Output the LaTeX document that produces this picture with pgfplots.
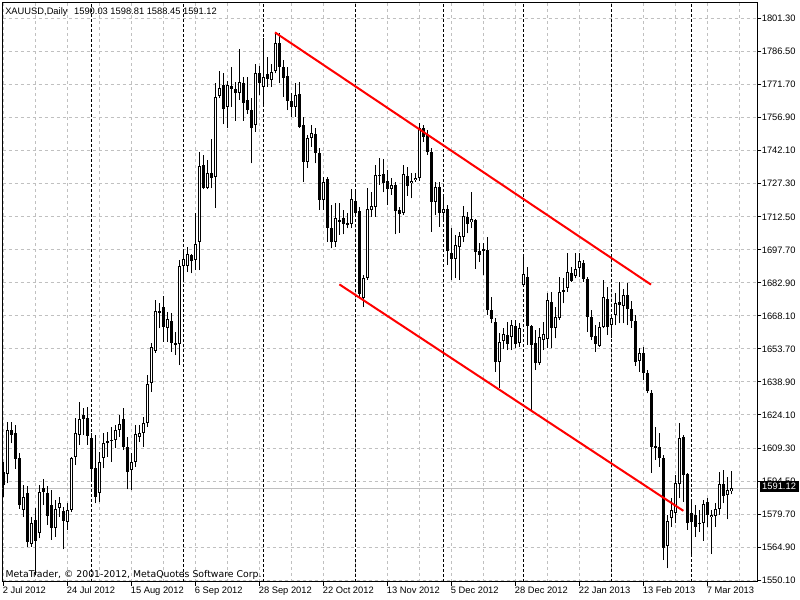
\documentclass[border=0pt]{standalone}
\usepackage{pgfplots}
\pgfplotsset{compat=1.18}
\usepackage{pgfplotstable}
\usepackage{fontspec}
\setmainfont{Liberation Sans}
\newfontfamily\dejavu{DejaVu Sans}
\definecolor{gridgray}{RGB}{192,192,192}
\pgfplotstableread{
i O H L C
0 1598.6 1603.1 1587.5 1592.7
1 1597.4 1621.0 1593.4 1617.3
2 1617.3 1620.7 1611.3 1615.0
3 1615.8 1619.5 1600.0 1604.3
4 1604.9 1607.0 1582.0 1583.5
5 1581.5 1592.7 1578.5 1587.5
6 1589.0 1592.0 1565.0 1567.0
7 1566.1 1578.5 1565.0 1575.8
8 1577.0 1582.2 1552.4 1567.6
9 1571.4 1592.7 1568.8 1589.4
10 1591.2 1595.2 1583.7 1589.4
11 1589.0 1592.2 1574.8 1579.0
12 1583.7 1590.4 1568.1 1573.3
13 1573.3 1586.0 1569.6 1581.9
14 1582.3 1587.5 1578.5 1584.5
15 1581.0 1583.0 1563.9 1576.7
16 1576.3 1584.5 1572.5 1581.5
17 1581.5 1605.3 1580.8 1604.6
18 1605.4 1622.5 1601.6 1615.8
19 1615.0 1630.0 1610.6 1622.0
20 1624.0 1627.0 1615.0 1622.0
21 1622.5 1627.7 1610.6 1614.6
22 1613.9 1615.8 1594.0 1599.7
23 1600.1 1615.0 1584.5 1587.5
24 1589.0 1607.6 1585.2 1603.0
25 1604.6 1615.8 1600.1 1611.3
26 1611.6 1616.5 1605.4 1612.4
27 1612.4 1618.8 1603.1 1612.8
28 1612.8 1619.5 1609.0 1617.3
29 1617.3 1624.0 1614.3 1619.8
30 1622.2 1627.0 1608.3 1609.8
31 1609.8 1614.0 1590.7 1598.6
32 1599.4 1606.9 1590.4 1602.8
33 1603.1 1619.5 1600.9 1615.3
34 1614.3 1619.5 1612.0 1615.8
35 1615.8 1623.2 1609.8 1620.3
36 1620.6 1641.9 1618.8 1637.7
37 1638.1 1656.0 1634.4 1654.2
38 1652.8 1675.4 1651.9 1670.6
39 1670.5 1673.9 1662.7 1669.8
40 1672.1 1677.2 1656.8 1663.5
41 1663.0 1670.2 1656.8 1666.8
42 1666.2 1669.8 1652.3 1656.3
43 1656.3 1661.2 1650.8 1655.6
44 1655.6 1693.3 1646.3 1690.8
45 1690.8 1697.0 1684.4 1693.6
46 1690.8 1699.3 1688.1 1695.9
47 1695.4 1696.0 1687.3 1692.9
48 1693.3 1714.2 1688.8 1700.3
49 1701.2 1741.7 1688.8 1735.3
50 1735.8 1740.3 1724.9 1725.7
51 1725.7 1738.0 1724.9 1732.1
52 1732.1 1747.3 1725.4 1730.1
53 1730.3 1772.6 1716.7 1766.3
54 1766.8 1777.8 1765.6 1770.1
55 1771.6 1776.8 1754.0 1760.7
56 1761.9 1773.4 1752.2 1771.6
57 1771.1 1779.8 1761.9 1769.6
58 1769.8 1773.0 1755.6 1768.1
59 1767.8 1787.5 1764.9 1772.8
60 1772.6 1775.3 1755.6 1763.7
61 1764.9 1775.3 1758.6 1760.4
62 1760.4 1765.6 1736.5 1752.2
63 1753.7 1780.8 1750.7 1777.1
64 1777.1 1780.0 1767.1 1772.3
65 1770.8 1792.4 1761.9 1775.3
66 1776.3 1784.2 1770.8 1774.1
67 1773.8 1781.2 1770.8 1777.5
68 1777.8 1795.1 1776.8 1790.2
69 1790.2 1795.0 1772.3 1779.8
70 1779.8 1782.7 1766.3 1774.5
71 1775.6 1779.8 1760.4 1764.4
72 1764.4 1767.8 1757.4 1761.9
73 1761.9 1772.3 1757.4 1767.1
74 1767.4 1773.1 1752.5 1752.9
75 1753.7 1757.4 1728.3 1737.3
76 1737.3 1749.2 1734.6 1747.7
77 1747.7 1753.7 1744.0 1749.9
78 1749.5 1752.2 1736.5 1741.3
79 1741.3 1743.5 1715.7 1720.1
80 1720.1 1730.6 1715.7 1728.3
81 1729.5 1730.6 1701.5 1707.5
82 1707.5 1717.9 1698.5 1701.5
83 1701.5 1718.6 1699.3 1711.9
84 1711.2 1718.6 1704.5 1710.4
85 1711.9 1715.7 1704.8 1709.2
86 1709.2 1714.2 1707.5 1709.7
87 1709.4 1725.0 1707.5 1720.6
88 1719.7 1723.9 1712.7 1714.2
89 1715.2 1717.2 1676.9 1677.9
90 1676.5 1686.6 1672.4 1685.1
91 1685.1 1725.3 1684.4 1716.1
92 1715.7 1723.9 1712.7 1717.4
93 1717.2 1735.8 1712.7 1731.3
94 1731.0 1738.8 1726.9 1731.3
95 1731.6 1738.3 1723.6 1727.9
96 1728.6 1733.6 1717.9 1725.0
97 1725.3 1729.8 1722.4 1726.8
98 1726.8 1728.3 1704.8 1715.4
99 1715.7 1717.2 1705.5 1713.7
100 1714.5 1735.8 1713.4 1731.6
101 1730.9 1735.0 1722.1 1726.5
102 1727.6 1732.1 1720.9 1728.6
103 1728.9 1732.1 1728.3 1730.1
104 1729.8 1754.4 1728.6 1752.2
105 1752.2 1753.7 1746.2 1748.5
106 1749.2 1751.4 1740.3 1741.8
107 1741.8 1743.3 1706.0 1719.1
108 1719.4 1728.3 1713.4 1726.1
109 1726.1 1728.3 1708.2 1714.5
110 1714.5 1722.4 1710.5 1716.0
111 1716.1 1717.9 1691.1 1697.5
112 1696.6 1707.5 1684.4 1693.8
113 1693.8 1704.5 1685.1 1700.0
114 1699.3 1706.0 1684.4 1704.0
115 1703.7 1717.6 1701.5 1713.0
116 1712.4 1714.9 1705.2 1709.3
117 1710.1 1723.6 1707.5 1711.5
118 1711.2 1711.5 1689.3 1697.0
119 1697.3 1700.8 1692.6 1695.5
120 1698.2 1700.8 1686.6 1697.5
121 1697.8 1703.7 1668.7 1670.9
122 1670.9 1676.9 1665.0 1666.9
123 1665.4 1667.2 1643.4 1647.8
124 1647.5 1660.5 1635.9 1656.8
125 1657.2 1662.7 1653.5 1660.1
126 1659.6 1665.7 1653.0 1655.7
127 1659.0 1666.5 1653.0 1664.1
128 1663.8 1666.5 1653.8 1655.7
129 1656.0 1665.0 1654.5 1662.7
130 1682.1 1695.5 1681.4 1686.9
131 1685.5 1690.3 1655.3 1663.8
132 1663.8 1664.2 1625.5 1655.3
133 1656.0 1662.0 1644.1 1647.1
134 1647.4 1662.7 1646.3 1659.0
135 1657.5 1665.7 1653.0 1660.0
136 1657.8 1678.4 1653.8 1675.4
137 1674.7 1679.1 1653.8 1662.7
138 1662.7 1672.4 1658.3 1667.6
139 1667.6 1685.8 1666.5 1679.1
140 1679.1 1685.1 1673.9 1679.9
141 1680.6 1696.6 1679.1 1687.8
142 1687.3 1690.3 1683.6 1684.0
143 1686.1 1696.3 1685.1 1689.3
144 1689.6 1696.3 1685.8 1692.8
145 1691.8 1693.3 1683.6 1684.6
146 1684.6 1685.8 1661.2 1667.9
147 1667.9 1670.9 1657.5 1658.7
148 1659.3 1664.2 1652.3 1655.7
149 1654.8 1665.7 1654.5 1663.5
150 1663.2 1684.4 1662.7 1676.9
151 1675.7 1681.4 1659.8 1663.5
152 1664.2 1668.7 1658.3 1667.2
153 1668.7 1678.4 1664.2 1674.2
154 1674.7 1683.6 1665.0 1673.2
155 1672.7 1680.2 1665.0 1677.6
156 1677.6 1683.1 1664.2 1671.2
157 1671.2 1675.0 1663.0 1666.0
158 1666.0 1668.5 1646.0 1647.8
159 1648.3 1653.8 1643.4 1651.6
160 1651.9 1654.5 1639.6 1642.6
161 1642.9 1644.1 1633.7 1634.9
162 1633.7 1635.2 1598.2 1609.8
163 1610.1 1618.8 1603.9 1609.5
164 1609.8 1615.8 1600.9 1604.9
165 1604.6 1606.1 1559.1 1564.7
166 1565.6 1579.3 1555.4 1576.6
167 1577.8 1586.7 1574.0 1581.5
168 1580.3 1597.2 1575.5 1593.4
169 1593.1 1620.3 1586.7 1613.6
170 1614.3 1615.0 1585.2 1597.2
171 1597.5 1597.9 1572.6 1575.5
172 1580.3 1586.0 1560.6 1576.3
173 1579.3 1583.7 1569.6 1573.8
174 1575.8 1581.5 1571.8 1575.2
175 1575.8 1586.0 1567.8 1584.2
176 1584.9 1586.7 1574.0 1579.3
177 1578.2 1581.5 1561.8 1579.3
178 1578.8 1584.5 1574.0 1581.8
179 1581.8 1598.6 1579.3 1593.0
180 1593.0 1599.4 1584.5 1587.9
181 1588.2 1596.4 1577.3 1590.4
182 1590.03 1598.81 1588.45 1591.12
}\ohlc
\begin{document}
\begin{tikzpicture}[x=1pt,y=1pt]
\fill[white] (0,0) rectangle (600,-450);
\useasboundingbox (0,0) rectangle (600,-450);
\begin{axis}[
  at={(2.025pt,-2.025pt)}, anchor=north west,
  scale only axis, width=565.95pt, height=434.1pt,
  xmin=-0.075, xmax=188.575, ymin=1549.5, ymax=1808.4,
  axis line style={black, line width=0.75pt},
  tick style={black, line width=0.75pt},
  major tick length=3pt, minor tick length=0pt,
  tick align=outside,
  xtick pos=bottom, ytick pos=right, yticklabel pos=right,
  xtick={0,16,...,176},
  xticklabels={2 Jul 2012,24 Jul 2012,15 Aug 2012,6 Sep 2012,28 Sep 2012,22 Oct 2012,13 Nov 2012,5 Dec 2012,28 Dec 2012,22 Jan 2013,13 Feb 2013,7 Mar 2013},
  minor xtick={8,24,...,184},
  ytick={1550.1,1564.876,1579.652,1594.428,1609.204,1623.98,1638.756,1653.532,1668.308,1683.084,1697.86,1712.636,1727.412,1742.188,1756.964,1771.74,1786.516,1801.292},
  yticklabels={1550.10,1564.90,1579.70,1594.50,1609.30,1624.10,1638.90,1653.70,1668.10,1682.90,1697.70,1712.50,1727.30,1742.10,1756.90,1771.70,1786.50,1801.30},
  every tick label/.append style={font=\fontsize{7}{8}\selectfont},
  xticklabel style={anchor=north west, inner sep=0pt, xshift=-0.3pt, yshift=-0.6pt},
  yticklabel style={anchor=west, inner sep=0pt, xshift=0.2pt},
  xmajorgrids, xminorgrids, ymajorgrids,
  major grid style={gridgray, line width=0.75pt, dash pattern=on 2.25pt off 2.25pt},
  minor grid style={gridgray, line width=0.75pt, dash pattern=on 2.25pt off 2.25pt},
  extra x ticks={22,45,65,88,110,130,152,172},
  extra x tick labels={},
  extra x tick style={grid=major, major tick length=0pt,
    major grid style={black, line width=0.75pt, dash pattern=on 2.25pt off 1.5pt}},
]
% current price line
\addplot[gridgray, line width=0.75pt, forget plot] coordinates {(-1,1591.12) (190,1591.12)};
% wicks
\addplot[draw=none, mark=none, forget plot,
  error bars/.cd, y dir=plus, y explicit, error mark=none,
  error bar style={draw=black, solid, line width=0.75pt}]
  table[x=i, y=L, y error expr=\thisrow{H}-\thisrow{L}] {\ohlc};
% bearish bodies
\addplot[draw=none, mark=none, forget plot,
  restrict expr to domain={\thisrow{O}-\thisrow{C}}{0:10000},
  error bars/.cd, y dir=both, y explicit, error mark=none,
  error bar style={draw=black, solid, line width=2.25pt}]
  table[x=i, y expr=(\thisrow{O}+\thisrow{C})/2, y error expr={max(abs(\thisrow{O}-\thisrow{C})/2,0.25)}] {\ohlc};
% bullish bodies outline
\addplot[draw=none, mark=none, forget plot,
  restrict expr to domain={\thisrow{C}-\thisrow{O}}{0.0001:10000},
  error bars/.cd, y dir=both, y explicit, error mark=none,
  error bar style={draw=black, solid, line width=2.25pt}]
  table[x=i, y expr=(\thisrow{O}+\thisrow{C})/2, y error expr={max((\thisrow{C}-\thisrow{O})/2,0.25)}] {\ohlc};
% bullish bodies interior
\addplot[draw=none, mark=none, forget plot,
  restrict expr to domain={\thisrow{C}-\thisrow{O}}{0.0001:10000},
  error bars/.cd, y dir=both, y explicit, error mark=none,
  error bar style={draw=white, solid, line width=0.75pt}]
  table[x=i, y expr=(\thisrow{O}+\thisrow{C})/2, y error expr={max((\thisrow{C}-\thisrow{O})/2-0.447,0)}] {\ohlc};
% channel lines
\addplot[red, line width=1.5pt, forget plot] coordinates {(68,1795.1) (162,1682.3)};
\addplot[red, line width=1.5pt, forget plot] coordinates {(84.1,1682.4) (170.1,1581.1)};
\end{axis}
\node[anchor=base west, inner sep=0pt, font=\fontsize{7}{8}\selectfont] at (3.75pt,-10.5pt) {XAUUSD,Daily\hspace{5pt}1590.03 1598.81 1588.45 1591.12};
\node[anchor=base west, inner sep=0pt, font=\dejavu\fontsize{7}{8}\selectfont] at (4pt,-433.3pt) {MetaTrader, © 2001-2012, MetaQuotes Software Corp.};
\node[fill=black, text=white, inner sep=0pt, minimum width=29.25pt, minimum height=8.25pt, anchor=north west, font=\fontsize{7}{8}\selectfont] at (569.5pt,-360.75pt) {1591.12};
\end{tikzpicture}
\end{document}
